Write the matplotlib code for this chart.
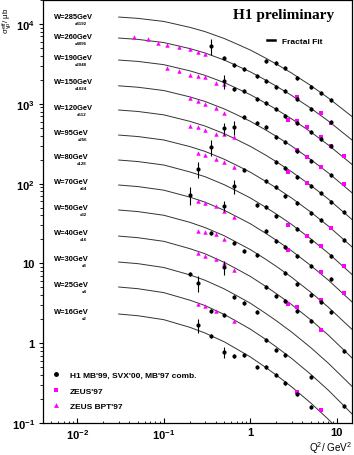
import matplotlib.pyplot as plt
import numpy as np
from matplotlib.lines import Line2D
from matplotlib.ticker import FixedLocator, FixedFormatter, LogLocator, NullFormatter

plt.rcParams['font.family'] = ['Liberation Sans', 'DejaVu Sans']
plt.rcParams['font.weight'] = 'bold'
plt.rcParams['mathtext.fontset'] = 'custom'
plt.rcParams['mathtext.rm'] = 'Liberation Sans:bold'
plt.rcParams['mathtext.it'] = 'Liberation Sans:italic:bold'
plt.rcParams['mathtext.bf'] = 'Liberation Sans:bold'

# W bins (top to bottom) and their scale factors
w_values = ['285', '260', '190', '150', '120', '95', '80', '70', '50', '40', '30', '25', '16']
scale_labels = ['x8192', 'x4096', 'x2048', 'x1024', 'x512', 'x256', 'x128',
                'x64', 'x32', 'x16', 'x8', 'x4', 'x2']

# fractal fit curves at these Q2 values
fit_q2 = [0.03, 0.05, 0.1, 0.2, 0.3, 0.5, 0.7, 1, 1.5, 2, 3, 5, 8, 15]
fit_sigma = [
    [12230, 11780, 10770, 9084, 8025, 6577, 5613, 4720, 3746, 3150, 2430, 1694, 1181, 693],
    [6672, 6421, 5858, 4920, 4332, 3533, 3002, 2515, 1985, 1662, 1274, 880, 608, 352],
    [3537, 3400, 3095, 2588, 2272, 1844, 1561, 1301, 1021, 851, 648, 444, 304, 174],
    [1681, 1614, 1467, 1221, 1069, 863, 728, 604, 471, 391, 296, 200, 136, 76.8],
    [836, 802, 727, 603, 526, 422, 355, 293, 228, 188, 141, 95.0, 63.9, 35.5],
    [406, 389, 352, 291, 253, 202, 169, 139, 107, 88.3, 66.0, 44.0, 29.3, 16.1],
    [197.5, 189, 171, 140, 122, 96.8, 80.6, 66.1, 50.7, 41.5, 30.8, 20.3, 13.4, 7.27],
    [96.0, 91.8, 82.7, 67.7, 58.5, 46.3, 38.4, 31.4, 23.9, 19.5, 14.4, 9.41, 6.16, 3.29],
    [46.7, 44.6, 40.1, 32.7, 28.1, 22.2, 18.3, 14.9, 11.3, 9.17, 6.71, 4.35, 2.82, 1.49],
    [22.0, 21.0, 18.9, 15.3, 13.2, 10.3, 8.49, 6.87, 5.17, 4.18, 3.05, 1.96, 1.26, 0.654],
    [10.4, 9.93, 8.88, 7.18, 6.14, 4.79, 3.93, 3.17, 2.37, 1.91, 1.38, 0.880, 0.560, 0.288],
    [5.06, 4.82, 4.30, 3.46, 2.96, 2.29, 1.87, 1.50, 1.12, 0.897, 0.645, 0.407, 0.257, 0.130],
    [2.32, 2.21, 1.97, 1.58, 1.34, 1.04, 0.843, 0.673, 0.498, 0.398, 0.284, 0.178, 0.111, 0.0556],
]

# H1 MB'99, SVX'00, MB'97 combined
h1_q2 = [
    [1.5, 2, 2.5, 3.5, 5, 6.5, 8.5],
    [0.35, 0.5, 0.65, 0.85, 1.2, 1.5, 2, 2.5, 3.5, 5, 8.5],
    [0.5, 0.65, 0.85, 1.2, 1.5, 2, 2.5, 3.5, 5, 6.5, 8.5],
    [0.85, 1.2, 1.5, 2, 2.5, 3.5, 5, 8.5],
    [0.5, 0.65, 2, 2.5, 3.5, 5, 6.5, 8.5, 12],
    [0.35, 0.85, 1.5, 2, 2.5, 3.5, 5, 6.5, 12],
    [0.25, 0.65, 1.2, 1.5, 2, 3.5, 5, 8.5],
    [0.2, 0.5, 1.5, 2, 2.5, 3.5, 5, 8.5],
    [0.35, 0.65, 0.85, 1.2, 2.5, 3.5, 5, 6.5, 8.5],
    [0.5, 1.5, 2, 2.5, 3.5, 5, 12],
    [0.2, 0.25, 0.65, 0.85, 1.2],
    [0.35, 0.5, 1.5, 2, 2.5, 5, 12],
    [0.25, 0.35, 0.5, 0.65, 0.85, 1.2, 1.5, 2, 2.5, 3.5, 5],
]
h1_sigma = [
    [3436, 3245, 2809, 2105, 1623, 1365, 1115],
    [5297, 3747, 3062, 2728, 2229, 1930, 1623, 1446, 1148, 860, 591],
    [1929, 1532, 1446, 1148, 1023, 860, 703, 574, 443, 362, 296],
    [683, 574, 512, 383, 332, 256, 192, 128],
    [497, 512, 186, 157, 121, 93.3, 76.2, 58.8, 44.0],
    [287, 148, 108, 90.6, 69.9, 57.1, 42.8, 35.0, 19.6],
    [152, 93.3, 53.9, 50.9, 39.2, 27.0, 19.1, 12.4],
    [71.9, 52.4, 25.5, 19.1, 16.0, 12.4, 9.27, 6.37],
    [24.0, 18.0, 14.3, 12.7, 7.58, 5.52, 4.02, 3.28, 2.46],
    [9.01, 5.06, 3.90, 3.38, 2.53, 1.90, 0.798],
    [7.36, 5.68, 3.79, 3.19, 2.46],
    [2.53, 2.26, 1.10, 0.821, 0.711, 0.377, 0.163],
    [1.69, 1.23, 0.775, 0.691, 0.711, 0.503, 0.503, 0.399, 0.317, 0.231, 0.159],
]
# relative errors
h1_err = [
    [0.06, 0.06, 0.06, 0.06, 0.06, 0.06, 0.06],
    [0.23, 0.06, 0.06, 0.06, 0.06, 0.06, 0.06, 0.06, 0.06, 0.06, 0.06],
    [0.20, 0.06, 0.06, 0.06, 0.06, 0.06, 0.06, 0.06, 0.06, 0.06, 0.06],
    [0.06, 0.06, 0.06, 0.06, 0.06, 0.06, 0.06, 0.06],
    [0.17, 0.20, 0.06, 0.06, 0.06, 0.06, 0.06, 0.06, 0.06],
    [0.23, 0.06, 0.06, 0.06, 0.06, 0.06, 0.06, 0.06, 0.06],
    [0.23, 0.20, 0.06, 0.06, 0.06, 0.06, 0.06, 0.06],
    [0.25, 0.14, 0.06, 0.06, 0.06, 0.06, 0.06, 0.06],
    [0.06, 0.06, 0.06, 0.06, 0.06, 0.06, 0.06, 0.06, 0.06],
    [0.20, 0.06, 0.06, 0.06, 0.06, 0.06, 0.06],
    [0.06, 0.23, 0.06, 0.06, 0.06],
    [0.06, 0.06, 0.06, 0.06, 0.06, 0.06, 0.06],
    [0.20, 0.06, 0.17, 0.06, 0.06, 0.06, 0.06, 0.06, 0.06, 0.06, 0.06],
]

# ZEUS'97
zeus_q2 = [
    [], [3.5, 6.5, 8.5], [2.7, 3.5, 4.5, 6.5, 8.5, 12], [3.5, 4.5, 6.5, 12],
    [2.7, 4.5], [8.5], [2.7, 4.5, 6.5, 12], [2.7, 6.5, 12], [6.5],
    [2.7, 3.5, 6.5], [], [], [3.5, 6.5],
]
zeus_sigma = [
    [], [1216, 766, 574], [626, 608, 512, 383, 296, 222], [264, 215, 161, 98.8],
    [140, 102], [27.8], [30.3, 22.0, 16.5, 9.27], [14.7, 7.80, 4.25], [3.45],
    [3.10, 2.84, 1.46], [], [], [0.244, 0.145],
]

# ZEUS BPT'97
bpt_q2 = [
    [], [0.045, 0.065, 0.085, 0.11, 0.15, 0.2, 0.25, 0.3],
    [0.11, 0.15, 0.2, 0.25, 0.3, 0.4, 0.5], [0.2, 0.25, 0.3, 0.4, 0.5],
    [0.2, 0.25, 0.3, 0.4, 0.5, 0.65], [0.25, 0.3, 0.4, 0.5, 0.65], [],
    [0.25, 0.3, 0.4, 0.5, 0.65], [0.25, 0.3, 0.4, 0.5],
    [0.25, 0.3, 0.4, 0.5, 0.65], [], [0.25, 0.3, 0.4, 0.65], [],
]
bpt_sigma = [
    [], [6867, 6480, 5775, 5451, 5146, 4858, 4455, 4205],
    [2808, 2575, 2294, 2229, 2180, 1821, 1769], [1181, 1083, 994, 885, 766],
    [527, 512, 469, 418, 418, 383], [242, 228, 203, 186, 161], [],
    [60.5, 57.1, 52.4, 45.3, 38.1], [25.5, 24.7, 23.3, 20.2],
    [13.5, 12.4, 11.3, 10.1, 8.26], [], [3.10, 2.92, 2.53, 1.90], [],
]

# label positions (axes fraction)
label_y = [0.962, 0.913, 0.863, 0.807, 0.745, 0.686, 0.630, 0.571, 0.509, 0.451, 0.389, 0.328, 0.264]

mag = '#ff00ff'

fig = plt.figure(figsize=(3.54, 4.56), dpi=100)
ax = fig.add_axes([0.1215, 0.0702, 0.8729, 0.9276])
ax.set_xscale('log')
ax.set_yscale('log')
ax.set_xlim(0.004, 15)
ax.set_ylim(0.1, 2e4)

for i in range(len(w_values)):
    ax.plot(fit_q2, fit_sigma[i], color='#333333', lw=0.7, zorder=1)
    if zeus_q2[i]:
        ax.plot(zeus_q2[i], zeus_sigma[i], 's', color=mag, ms=3.2, mew=0, zorder=2)
    if bpt_q2[i]:
        s = np.array(bpt_sigma[i])
        ax.errorbar(bpt_q2[i], s, yerr=s * 0.04, fmt='^', color=mag, ms=3.2, mew=0,
                    elinewidth=0.7, capsize=0, zorder=2)
    s = np.array(h1_sigma[i])
    ax.errorbar(h1_q2[i], s, yerr=s * np.array(h1_err[i]), fmt='o', color='black',
                ms=3.0, mew=0, elinewidth=0.8, capsize=0, zorder=3)

    ax.text(0.0356, label_y[i], 'W=' + w_values[i] + 'GeV', transform=ax.transAxes,
            fontsize=5.4, fontweight='bold', ha='left', va='center')
    ax.text(0.1424, label_y[i] - 0.0153, scale_labels[i], transform=ax.transAxes,
            fontsize=3.2, fontweight='bold', ha='right', va='center')

# ticks
ax.yaxis.set_major_locator(FixedLocator([0.1, 1, 10, 100, 1000, 10000]))
ax.yaxis.set_major_formatter(FixedFormatter([r'$\mathregular{10^{-1}}$', '1', '10',
                                             r'$\mathregular{10^{2}}$', r'$\mathregular{10^{3}}$',
                                             r'$\mathregular{10^{4}}$']))
ax.yaxis.set_minor_locator(LogLocator(base=10, subs=np.arange(2, 10), numticks=20))
ax.yaxis.set_minor_formatter(NullFormatter())
ax.xaxis.set_major_locator(FixedLocator([0.01, 0.1, 1, 10]))
ax.xaxis.set_major_formatter(FixedFormatter([r'$\mathregular{10^{-2}}$', r'$\mathregular{10^{-1}}$',
                                             '1', '10']))
ax.xaxis.set_minor_locator(LogLocator(base=10, subs=np.arange(2, 10), numticks=20))
ax.xaxis.set_minor_formatter(NullFormatter())
ax.tick_params(axis='y', which='major', direction='out', length=3, width=0.8, labelsize=8, pad=3)
ax.tick_params(axis='y', which='minor', direction='out', length=2, width=0.6)
ax.tick_params(axis='x', which='major', direction='in', length=3.5, width=0.8, labelsize=8, pad=3)
ax.tick_params(axis='x', which='minor', direction='in', length=1.8, width=0.6)
for sp in ax.spines.values():
    sp.set_linewidth(0.9)

ax.set_xlabel(r'$\mathregular{Q^2}$/ $\mathregular{GeV^2}$', fontsize=7.2, loc='right')
ax.xaxis.set_label_coords(1.0, -0.038)
ax.set_ylabel(r'$\mathregular{\sigma^{eff}_{\gamma p}}$/ $\mathregular{\mu b}$', fontsize=5.8, loc='top')
ax.yaxis.set_label_coords(-0.093, 0.985)

ax.text(0.78, 0.965, 'H1 preliminary', transform=ax.transAxes, fontsize=11,
        fontweight='bold', family='Liberation Serif', ha='center', va='center')

fit_leg = ax.legend([Line2D([], [], color='black', lw=1.8)], ['Fractal Fit'],
                    loc='upper left', bbox_to_anchor=(0.725, 0.912), frameon=False,
                    fontsize=6, handlelength=1.0, handletextpad=0.85, borderpad=0,
                    borderaxespad=0)
ax.add_artist(fit_leg)

handles = [Line2D([], [], ls='', marker='o', color='black', ms=3.5, mew=0),
           Line2D([], [], ls='', marker='s', color=mag, ms=3.5, mew=0),
           Line2D([], [], ls='', marker='^', color=mag, ms=3.5, mew=0)]
ax.legend(handles, ["H1 MB'99, SVX'00, MB'97 comb.", "ZEUS'97", "ZEUS BPT'97"],
          loc='lower left', bbox_to_anchor=(0.031, 0.03), frameon=False, fontsize=6,
          handlelength=0.8, handletextpad=1.3, labelspacing=0.95, borderpad=0,
          borderaxespad=0)

fig.savefig('out.png', dpi=100)
